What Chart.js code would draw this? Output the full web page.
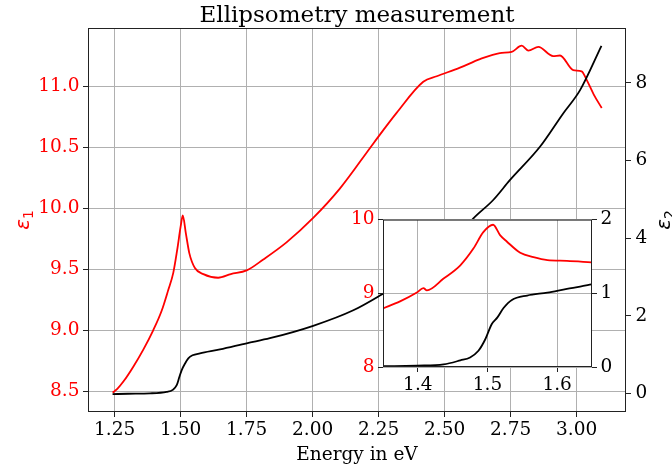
<!DOCTYPE html>
<html>
<head>
<meta charset="utf-8">
<script src="https://cdn.jsdelivr.net/npm/chart.js@4.4.1/dist/chart.umd.min.js"></script>
<style>
    html, body { margin: 0; padding: 0; background: #fff; }
    #wrap { position: relative; width: 672px; height: 470px; }
    #main { position: absolute; left: 0; top: 0; }
    #inset { position: absolute; left: 343px; top: 205px; }
</style>
</head>
<body>
<div id="wrap">
    <canvas id="main" width="672" height="470"></canvas>
    <canvas id="inset" width="280" height="200"></canvas>
</div>
<script>
// -- main plot data --
const E1_ENERGY = [1.242, 1.260, 1.283, 1.320, 1.358, 1.396, 1.428, 1.453, 1.472, 1.487, 1.500, 1.508, 1.520, 1.533,
    1.554, 1.586, 1.642, 1.690, 1.750, 1.813, 1.901, 2.002, 2.103, 2.230, 2.318, 2.419, 2.470, 2.558, 2.634,
    2.709, 2.754, 2.792, 2.817, 2.855, 2.911, 2.937, 2.987, 3.019, 3.038, 3.065, 3.095];
const E1_VALUES = [8.49, 8.52, 8.58, 8.70, 8.84, 9.00, 9.16, 9.33, 9.47, 9.66, 9.85, 9.94, 9.79, 9.63,
    9.51, 9.46, 9.43, 9.46, 9.49, 9.58, 9.72, 9.92, 10.16, 10.53, 10.78, 11.035, 11.08, 11.15, 11.22,
    11.27, 11.28, 11.33, 11.29, 11.32, 11.245, 11.25, 11.13, 11.12, 11.05, 10.93, 10.82];

const E2_ENERGY = [1.242, 1.300, 1.384, 1.447, 1.470, 1.485, 1.495, 1.504, 1.515, 1.529, 1.545, 1.573, 1.649, 1.750,
    1.838, 2.002, 2.154, 2.260, 2.350, 2.450, 2.550, 2.608, 2.684, 2.747, 2.861, 2.949, 3.013, 3.094];
const E2_VALUES = [-0.02, -0.01, 0.00, 0.04, 0.09, 0.21, 0.42, 0.60, 0.75, 0.90, 0.98, 1.03, 1.13, 1.29,
    1.42, 1.74, 2.14, 2.54, 2.92, 3.45, 4.05, 4.50, 4.98, 5.49, 6.35, 7.21, 7.81, 8.95];

// -- inset data --
const IN_E1_ENERGY = [1.350, 1.3745, 1.3986, 1.408, 1.413, 1.437, 1.461, 1.480, 1.494, 1.508, 1.518, 1.528,
    1.547, 1.566, 1.586, 1.614, 1.649];
const IN_E1_VALUES = [8.795, 8.89, 9.01, 9.07, 9.04, 9.20, 9.38, 9.61, 9.83, 9.93, 9.79, 9.70,
    9.55, 9.49, 9.45, 9.44, 9.42];

const IN_E2_ENERGY = [1.350, 1.399, 1.437, 1.461, 1.475, 1.487, 1.497, 1.506, 1.514, 1.523, 1.535, 1.557,
    1.586, 1.614, 1.633, 1.649];
const IN_E2_VALUES = [0.01, 0.02, 0.036, 0.09, 0.13, 0.22, 0.38, 0.58, 0.67, 0.80, 0.91, 0.97,
    1.01, 1.06, 1.09, 1.12];

// -- ticks --
const X_TICKS = [1.25, 1.50, 1.75, 2.00, 2.25, 2.50, 2.75, 3.00];
const E1_TICKS = [8.5, 9.0, 9.5, 10.0, 10.5, 11.0];
const E2_TICKS = [0, 2, 4, 6, 8];
const IN_X_TICKS = [1.4, 1.5, 1.6];
const IN_E1_TICKS = [8, 9, 10];
const IN_E2_TICKS = [0, 1, 2];

const SERIF = "'DejaVu Serif', serif";
const RED = '#ff0000';
const BLACK = '#000000';
const GRID = '#b0b0b0';
const SPINE = '#222222';
const TICK_FONT = { family: SERIF, size: 18.5 };

function pts(xs, ys) {
    return xs.map((x, i) => ({ x, y: ys[i] }));
}

function fixTicks(values) {
    return (scale) => { scale.ticks = values.map(v => ({ value: v })); };
}

// white axes patch + black frame, like a matplotlib axes
const frame = {
    id: 'frame',
    beforeDraw(chart, args, opts) {
        if (!opts.fill) return;
        const a = chart.chartArea, c = chart.ctx;
        c.save();
        c.fillStyle = '#fff';
        c.fillRect(a.left, a.top, a.right - a.left, a.bottom - a.top);
        c.restore();
    },
    afterDraw(chart) {
        const a = chart.chartArea, c = chart.ctx;
        c.save();
        c.strokeStyle = SPINE;
        c.lineWidth = 1;
        c.strokeRect(a.left + 0.5, a.top + 0.5, a.right - a.left - 1, a.bottom - a.top - 1);
        c.restore();
    },
};

function epsLabel(c, x, y, sub, color) {
    c.save();
    c.translate(x, y);
    c.rotate(-Math.PI / 2);
    c.fillStyle = color;
    c.textBaseline = 'alphabetic';
    c.textAlign = 'left';
    c.font = "italic 20px 'DejaVu Sans', sans-serif";
    const w1 = c.measureText('ε').width;
    c.font = "14px 'DejaVu Sans', sans-serif";
    const w2 = c.measureText(sub).width;
    const x0 = -(w1 + w2) / 2;
    c.font = "italic 20px 'DejaVu Sans', sans-serif";
    c.fillText('ε', x0, 0);
    c.font = "14px 'DejaVu Sans', sans-serif";
    c.fillText(sub, x0 + w1, 4);
    c.restore();
}

const labels = {
    id: 'labels',
    afterDraw(chart) {
        const c = chart.ctx;
        c.save();
        c.fillStyle = BLACK;
        c.textAlign = 'center';
        c.textBaseline = 'alphabetic';
        c.font = '23px ' + SERIF;
        c.fillText('Ellipsometry measurement', 357, 22);
        c.font = '18.5px ' + SERIF;
        c.fillText('Energy in eV', 357, 460);
        c.restore();
        epsLabel(c, 29, 220, '1', RED);
        epsLabel(c, 670, 220, '2', BLACK);
    },
};

function axisGrid(onArea) {
    return {
        display: true,
        drawOnChartArea: onArea,
        drawTicks: true,
        color: GRID,
        lineWidth: 1,
        tickColor: SPINE,
        tickLength: 5,
        tickWidth: 1,
    };
}

new Chart(document.getElementById('main'), {
    type: 'line',
    data: {
        datasets: [
            {
                label: 'eps1', data: pts(E1_ENERGY, E1_VALUES), yAxisID: 'y',
                borderColor: RED, borderWidth: 1.8, pointRadius: 0, cubicInterpolationMode: 'monotone', order: 1,
            },
            {
                label: 'eps2', data: pts(E2_ENERGY, E2_VALUES), yAxisID: 'y2',
                borderColor: BLACK, borderWidth: 1.8, pointRadius: 0, cubicInterpolationMode: 'monotone', order: 0,
            },
        ],
    },
    options: {
        responsive: false,
        animation: false,
        layout: { padding: { top: 28, left: 0, right: 0, bottom: 0 } },
        plugins: { legend: { display: false }, tooltip: { enabled: false }, title: { display: false }, frame: { fill: false } },
        scales: {
            x: {
                type: 'linear', min: 1.149, max: 3.187,
                afterBuildTicks: fixTicks(X_TICKS),
                afterFit: (s) => { s.height = 58; },
                grid: axisGrid(true),
                border: { display: false },
                ticks: { font: TICK_FONT, color: BLACK, padding: 2, maxRotation: 0, autoSkip: false,
                    callback: (v) => v.toFixed(2) },
            },
            y: {
                type: 'linear', position: 'left', min: 8.331, max: 11.475,
                afterBuildTicks: fixTicks(E1_TICKS),
                afterFit: (s) => { s.width = 88; },
                grid: axisGrid(true),
                border: { display: false },
                ticks: { font: TICK_FONT, color: RED, padding: 3.5, callback: (v) => v.toFixed(1) },
            },
            y2: {
                type: 'linear', position: 'right', min: -0.48, max: 9.41,
                afterBuildTicks: fixTicks(E2_TICKS),
                afterFit: (s) => { s.width = 46; },
                grid: axisGrid(false),
                border: { display: false },
                ticks: { font: TICK_FONT, color: BLACK, padding: 4.5, callback: (v) => String(v) },
            },
        },
    },
    plugins: [frame, labels],
});

// -- inset --
new Chart(document.getElementById('inset'), {
    type: 'line',
    data: {
        datasets: [
            {
                label: 'eps1', data: pts(IN_E1_ENERGY, IN_E1_VALUES), yAxisID: 'y',
                borderColor: RED, borderWidth: 1.8, pointRadius: 0, cubicInterpolationMode: 'monotone', order: 1,
            },
            {
                label: 'eps2', data: pts(IN_E2_ENERGY, IN_E2_VALUES), yAxisID: 'y2',
                borderColor: BLACK, borderWidth: 1.8, pointRadius: 0, cubicInterpolationMode: 'monotone', order: 0,
            },
        ],
    },
    options: {
        responsive: false,
        animation: false,
        layout: { padding: { top: 12, left: 0, right: 0, bottom: 0 } },
        plugins: { legend: { display: false }, tooltip: { enabled: false }, title: { display: false }, frame: { fill: true } },
        scales: {
            x: {
                type: 'linear', min: 1.35, max: 1.65,
                afterBuildTicks: fixTicks(IN_X_TICKS),
                afterFit: (s) => { s.height = 38; },
                grid: axisGrid(true),
                border: { display: false },
                ticks: { font: TICK_FONT, color: BLACK, padding: 2, maxRotation: 0, autoSkip: false,
                    callback: (v) => v.toFixed(1) },
            },
            y: {
                type: 'linear', position: 'left', min: 8, max: 10,
                afterBuildTicks: fixTicks(IN_E1_TICKS),
                afterFit: (s) => { s.width = 40; },
                grid: axisGrid(true),
                border: { display: false },
                ticks: { font: TICK_FONT, color: RED, padding: 3.5, callback: (v) => String(v) },
            },
            y2: {
                type: 'linear', position: 'right', min: 0, max: 2,
                afterBuildTicks: fixTicks(IN_E2_TICKS),
                afterFit: (s) => { s.width = 31; },
                grid: axisGrid(false),
                border: { display: false },
                ticks: { font: TICK_FONT, color: BLACK, padding: 3.5, callback: (v) => String(v) },
            },
        },
    },
    plugins: [frame],
});
</script>
</body>
</html>
